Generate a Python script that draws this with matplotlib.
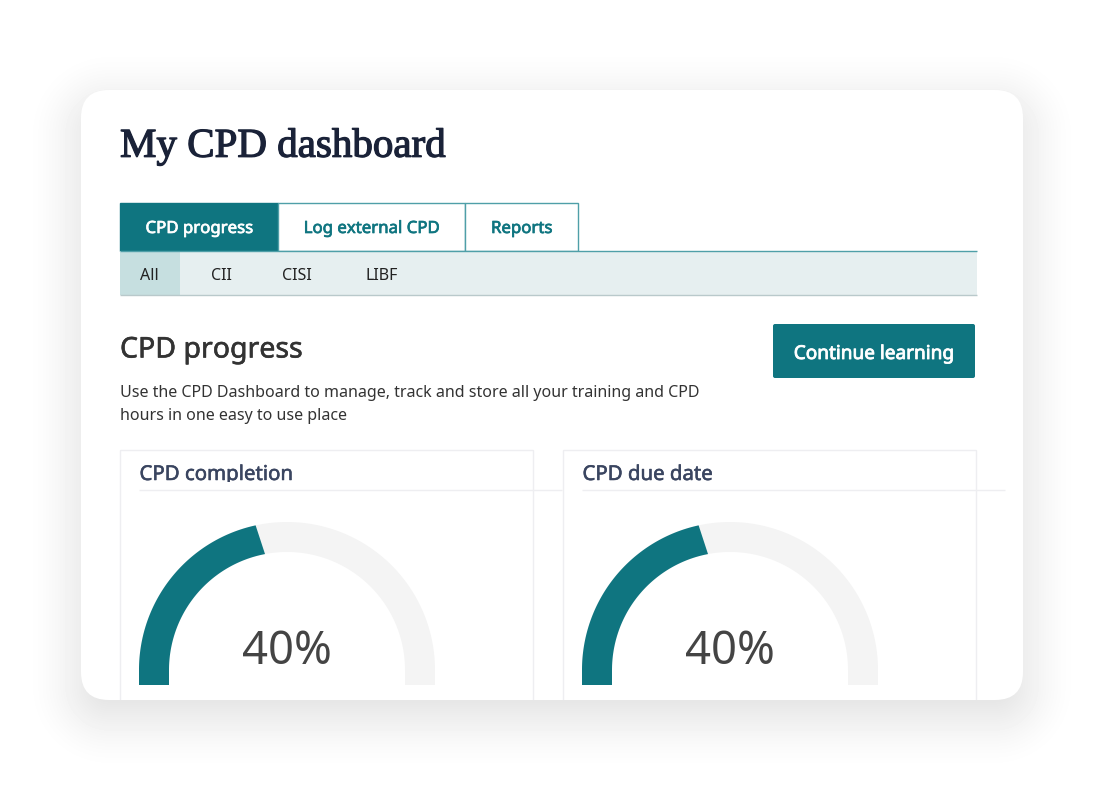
import matplotlib
matplotlib.use("Agg")
import matplotlib.pyplot as plt
import matplotlib.patheffects as pe
import numpy as np
from matplotlib.patches import FancyBboxPatch, Rectangle, Polygon

# dados
main_tabs = ["CPD progress", "Log external CPD", "Reports"]
sub_tabs = ["All", "CII", "CISI", "LIBF"]
card_titles = ["CPD completion", "CPD due date"]
gauge_labels = ["40%", "40%"]
gauge_drawn = [43.2, 43.2]  # parte do arco pintada, medida no desenho

TEAL = "#0F7580"
EDGE = "#4F9FA8"
LINE = "#EEEEF1"
SANS = "Noto Sans"


def px(size):
    return size * 0.72


def rbox(x0, y0, x1, y1, r, **kw):
    return FancyBboxPatch((x0 + r, y0 + r), x1 - x0 - 2 * r, y1 - y0 - 2 * r,
                          boxstyle="round,pad=%f,rounding_size=%f" % (r, r), **kw)


def heavy(txt, color, w=0.5):
    # engrossa o texto, a fonte instalada nao tem o peso intermediario
    txt.set_path_effects([pe.withStroke(linewidth=w, foreground=color)])
    return txt


fig = plt.figure(figsize=(11.05, 7.92), dpi=100)
ax = fig.add_axes([0, 0, 1, 1])
ax.set_xlim(0, 1105)
ax.set_ylim(792, 0)
ax.axis("off")

# sombra do cartao
xx, yy = np.meshgrid(np.arange(1105) + 0.5, np.arange(792) + 0.5)
qx = np.abs(xx - 552) - 471 + 28
qy = np.abs(yy - 410) - 305 + 28
dist = np.hypot(np.maximum(qx, 0), np.maximum(qy, 0)) + np.minimum(np.maximum(qx, qy), 0) - 28
t = np.clip((dist + 70) / 130, 0, 1)
shade = 0.16 * (1 - t * t * (3 - 2 * t))
ax.imshow(1 - shade, cmap="gray", vmin=0, vmax=1, extent=(0, 1105, 792, 0),
          aspect="auto", zorder=0, interpolation="bilinear")
ax.set_xlim(0, 1105)
ax.set_ylim(792, 0)

card = rbox(81, 90, 1023, 700, 28, fc="white", ec="none", zorder=1)
ax.add_patch(card)

heavy(ax.text(120, 147, "My CPD dashboard", family="Liberation Serif",
              fontsize=px(41), color="#1A2238", va="center", zorder=3), "#1A2238", 0.9)

# abas principais
tab_edges = [120, 278, 465, 578]
for i, name in enumerate(main_tabs):
    x0, x1 = tab_edges[i], tab_edges[i + 1]
    active = i == 0
    col = "white" if active else TEAL
    ax.add_patch(Rectangle((x0, 203), x1 - x0, 48, fc=TEAL if active else "white",
                           ec=TEAL if active else EDGE, lw=1, zorder=2))
    heavy(ax.text((x0 + x1) / 2, 229, name, family=SANS, fontsize=px(16.8),
                  color=col, ha="center", va="center", zorder=3), col)

# sub abas
ax.add_patch(Rectangle((120, 251), 857, 44, fc="#E6EFF0", ec="none", zorder=2))
ax.add_patch(Rectangle((120, 251), 60, 44, fc="#C6DFE0", ec="none", zorder=2))
ax.plot([120, 977], [250.6, 250.6], color=EDGE, lw=1, zorder=3, solid_capstyle="butt")
ax.plot([120, 977], [295, 295], color="#B9C9CB", lw=1, zorder=3, solid_capstyle="butt")
sub_x = [149, 221, 297, 381.5]
for x, name in zip(sub_x, sub_tabs):
    ax.text(x, 276, name, family=SANS, fontsize=px(16), color="#222222",
            ha="center", va="center", zorder=3)

heavy(ax.text(120, 350, "CPD progress", family=SANS, fontsize=px(28.5), color="#333333",
              va="center", zorder=3), "#333333", 0.4)
ax.text(120, 393, "Use the CPD Dashboard to manage, track and store all your training and CPD",
        family=SANS, fontsize=px(16), color="#333333", va="center", zorder=3)
ax.text(120, 416, "hours in one easy to use place", family=SANS, fontsize=px(16),
        color="#333333", va="center", zorder=3)

# botao
ax.add_patch(rbox(773, 324, 975, 378, 2, fc=TEAL, ec="none", zorder=2))
heavy(ax.text(874, 354, "Continue learning", family=SANS, fontsize=px(19),
              color="white", ha="center", va="center", zorder=3), "white", 0.6)

# cartoes com os medidores
for i in range(2):
    left = 120 + 443 * i
    border = Rectangle((left, 449.5), 412.5, 300, fc="none", ec=LINE, lw=1, zorder=2)
    ax.add_patch(border)
    border.set_clip_path(card)
    ax.plot([left + 19, left + 442], [490.2, 490.2], color=LINE, lw=1, zorder=2,
            solid_capstyle="butt")

    title = ax.text(left + 19.5, 475, card_titles[i], family=SANS,
                    fontsize=px(20.4), color="#3A4560", va="center", zorder=3)
    heavy(title, "#3A4560", 0.4)
    # a imagem corta as descendentes do titulo
    title.set_clip_on(True)
    title.set_clip_path(Rectangle((left, 450), 412, 32, transform=ax.transData))

    cx = left + 167
    cy = 670
    bottom = 685
    outer = 148
    inner = 118

    # fundo do arco
    ang = np.linspace(np.pi, 0, 200)
    top = np.column_stack([cx + outer * np.cos(ang), cy - outer * np.sin(ang)])
    under = np.column_stack([cx + inner * np.cos(ang[::-1]), cy - inner * np.sin(ang[::-1])])
    shape = [[cx - outer, bottom]] + top.tolist() + [[cx + outer, bottom], [cx + inner, bottom]] + under.tolist() + [[cx - inner, bottom]]
    ax.add_patch(Polygon(shape, closed=True, fc="#F4F4F4", ec="none", zorder=2))

    # parte pintada, o corte nao e bem radial na imagem
    end = np.pi * (1 - gauge_drawn[i] / 100)
    ang_o = np.linspace(np.pi, end, 200)
    ang_i = np.linspace(end - np.radians(1.5), np.pi, 200)
    top = np.column_stack([cx + outer * np.cos(ang_o), cy - outer * np.sin(ang_o)])
    under = np.column_stack([cx + inner * np.cos(ang_i), cy - inner * np.sin(ang_i)])
    shape = [[cx - outer, bottom]] + top.tolist() + under.tolist() + [[cx - inner, bottom]]
    ax.add_patch(Polygon(shape, closed=True, fc=TEAL, ec="none", zorder=2))

    ax.text(cx, 652.5, gauge_labels[i], family=SANS, fontsize=px(45.5), color="#444444",
            ha="center", va="center", zorder=3)

fig.savefig("out.png", dpi=100)
